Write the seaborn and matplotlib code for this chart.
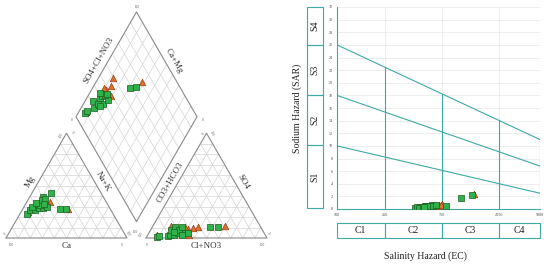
import matplotlib.pyplot as plt
import numpy as np
import pandas as pd
import seaborn as sns

# samples, two sets (green squares / orange triangles)
# cations in % meq: Ca, Mg (Na+K is the rest); anions: Cl+NO3, SO4 (CO3+HCO3 is the rest)
set1_ca = [71.6, 66.8, 62.7, 64.1, 58.3, 55.5, 51.7, 56.2, 50.3, 52.3, 49.3, 41.5, 41.7, 36.6, 58.5, 52.2]
set1_mg = [22.6, 26.7, 26.7, 29.3, 28.3, 28.3, 29.3, 31.5, 38.8, 36.3, 36.9, 43.2, 27.4, 27.7, 33.4, 32.9]
set1_cl = [8.5, 9.8, 17.4, 18.4, 22.0, 24.0, 29.7, 16.9, 18.9, 23.7, 24.1, 32.2, 47.2, 54.0, 28.0, 20.0]
set1_so4 = [0.7, 1.9, 1.9, 2.9, 2.9, 4.5, 5.0, 7.6, 10.2, 7.6, 10.8, 4.5, 10.8, 10.2, 2.9, 5.5]
set1_ec = [450, 470, 500, 490, 540, 560, 620, 520, 600, 580, 640, 680, 1100, 1350, 530, 820]
set1_sar = [0.2, 0.25, 0.35, 0.2, 0.4, 0.45, 0.6, 0.3, 0.5, 0.45, 0.55, 0.65, 1.7, 2.2, 0.25, 0.45]

set2_ca = [46.3, 69.0, 35.2, 49.0, 58.0, 56.0, 63.0, 50.0]
set2_mg = [34.6, 25.1, 27.2, 39.0, 30.0, 33.0, 28.0, 36.0]
set2_cl = [30.8, 8.0, 59.3, 26.8, 37.8, 15.0, 34.0, 34.5]
set2_so4 = [8.3, 2.5, 11.5, 10.8, 10.8, 11.4, 2.9, 9.3]
set2_ec = [720, 470, 1400, 660, 760, 620, 700, 740]
set2_sar = [0.7, 0.3, 2.45, 0.6, 0.75, 0.5, 0.55, 0.65]

# Wilcox diagram
ec_ticks = [100, 250, 750, 2250, 5000]
sar_ticks = list(range(0, 33, 2))
s_bounds = [0, 10, 18, 26, 32]
s_names = ["S1", "S2", "S3", "S4"]
c_names = ["C1", "C2", "C3", "C4"]
# boundary lines: SAR at EC=100 and EC=5000
line_start = [10, 18, 26]
line_end = [2.5, 6.8, 11]

teal = "#3fa9a5"
green, green_edge = "#2fb24a", "#1b5e20"
orange, orange_edge = "#e0702e", "#9c3d12"

sns.set_theme(style="white")
plt.rcParams["font.family"] = ["Liberation Serif", "DejaVu Serif"]

fig = plt.figure(figsize=(5.5, 2.65), dpi=100)

# ---------------- Piper diagram ----------------
L = 100
gap = 15.7
h = np.sqrt(3) / 2
bx, by = L + gap / 2, gap * h

ax = fig.add_axes([0, 0, 280 / 550, 1])

grid_kw = dict(color="#d4d4d4", lw=0.5, zorder=1)
edge_kw = dict(color="#8a8a8a", lw=0.8, zorder=2)
for ox in [0, L + gap]:
    for i in range(1, 10):
        t = i / 10
        ax.plot([ox + t * L / 2, ox + L - t * L / 2], [t * L * h, t * L * h], **grid_kw)
        ax.plot([ox + t * L, ox + t * L + (1 - t) * L / 2], [0, (1 - t) * L * h], **grid_kw)
        ax.plot([ox + t * L, ox + t * L / 2], [0, t * L * h], **grid_kw)
    ax.plot([ox, ox + L, ox + L / 2, ox], [0, 0, L * h, 0], **edge_kw)

for i in range(1, 10):
    t = i / 10
    x0, y0 = bx - t * L / 2, by + t * L * h
    ax.plot([x0, x0 + L / 2], [y0, y0 + L * h], **grid_kw)
    x0, y0 = bx + t * L / 2, by + t * L * h
    ax.plot([x0, x0 - L / 2], [y0, y0 + L * h], **grid_kw)
ax.plot([bx, bx - L / 2, bx, bx + L / 2, bx], [by, by + L * h, by + 2 * L * h, by + L * h, by], **edge_kw)

lab_kw = dict(fontsize=6.5, color="#333333", ha="center", va="center")
ax.text(L / 2, -7, "Ca", **lab_kw)
ax.text(L + gap + L / 2, -7, "Cl+NO3", **lab_kw)
ax.text(19.8, 46.3, "Mg", rotation=60, **lab_kw)
ax.text(80.2, 46.3, "Na+K", rotation=-60, **lab_kw)
ax.text(135.5, 46.3, "CO3+HCO3", rotation=60, **lab_kw)
ax.text(195.9, 46.3, "SO4", rotation=-60, **lab_kw)
ax.text(77.0, 146.5, "SO4+Cl+NO3", rotation=60, **lab_kw)
ax.text(138.5, 146.5, "Ca+Mg", rotation=-60, **lab_kw)

tk = dict(fontsize=2.5, color="#555555", ha="center", va="center")
ax.text(4.5, -5.5, "100", **tk)
ax.text(95.6, -5.5, "0", **tk)
ax.text(-0.8, 3.9, "0", rotation=60, **tk)
ax.text(45.5, 85, "100", rotation=60, **tk)
ax.text(54.5, 87, "0", rotation=-60, **tk)
ax.text(100.8, 3.9, "100", rotation=-60, **tk)
ax.text(116.3, -5.5, "0", **tk)
ax.text(212, -5.5, "100", **tk)
ax.text(112, 3, "100", rotation=60, **tk)
ax.text(163, 86, "0", rotation=60, **tk)
ax.text(170, 86, "100", rotation=-60, **tk)
ax.text(216.8, 3.9, "0", rotation=-60, **tk)
ax.text(108.3, 190.5, "100", **tk)
ax.text(54.3, 97.5, "0", **tk)
ax.text(162.8, 97.5, "0", **tk)
ax.text(106.6, 5.2, "100", **tk)


def piper_points(ca, mg, cl, so4):
    ca, mg, cl, so4 = map(np.asarray, (ca, mg, cl, so4))
    nak = 100 - ca - mg
    u = (ca + mg) / 100
    v = (cl + so4) / 100
    xs = np.concatenate([nak + mg / 2, L + gap + cl + so4 / 2, bx + L * (v - u) / 2])
    ys = np.concatenate([mg * h, so4 * h, by + L * h * (u + v)])
    return pd.DataFrame({"x": xs, "y": ys})


p2 = piper_points(set2_ca, set2_mg, set2_cl, set2_so4)
p1 = piper_points(set1_ca, set1_mg, set1_cl, set1_so4)
sns.scatterplot(data=p2, x="x", y="y", ax=ax, marker="^", s=22, color=orange,
                edgecolor=orange_edge, linewidth=0.5, zorder=3, legend=False)
sns.scatterplot(data=p1, x="x", y="y", ax=ax, marker="s", s=16, color=green,
                edgecolor=green_edge, linewidth=0.5, zorder=4, legend=False)
ax.set_xlim(-6 / 1.21, 274 / 1.21)
ax.set_ylim((238 - 265) / 1.21, 238 / 1.21)
ax.axis("off")

# ---------------- Wilcox diagram ----------------
ax2 = fig.add_axes([337 / 550, 56 / 265, 203 / 550, 202 / 265])
w2 = pd.DataFrame({"EC": set2_ec, "SAR": set2_sar})
w1 = pd.DataFrame({"EC": set1_ec, "SAR": set1_sar})
sns.scatterplot(data=w2, x="EC", y="SAR", ax=ax2, marker="^", s=22, color=orange,
                edgecolor=orange_edge, linewidth=0.5, zorder=4, legend=False)
sns.scatterplot(data=w1, x="EC", y="SAR", ax=ax2, marker="s", s=16, color=green,
                edgecolor=green_edge, linewidth=0.5, zorder=5, legend=False)
ax2.set_xscale("log")
ax2.set_xlim(100, 5000)
ax2.set_ylim(0, 32)
ax2.set_xticks(ec_ticks)
ax2.set_xticklabels([str(t) for t in ec_ticks])
ax2.minorticks_off()
ax2.set_yticks(sar_ticks)
ax2.grid(True, color="#e8e8e8", lw=0.5)
ax2.set_axisbelow(True)
ax2.tick_params(length=0, labelsize=3, pad=3, colors="#444444")
ax2.set_xlabel("")
ax2.set_ylabel("")
for s in ["top", "right"]:
    ax2.spines[s].set_visible(False)
for s in ["left", "bottom"]:
    ax2.spines[s].set_color(teal)
    ax2.spines[s].set_linewidth(0.8)

logx = np.log10([100, 5000])
for a, b in zip(line_start, line_end):
    ax2.plot([100, 5000], [a, b], color=teal, lw=0.8, zorder=3)
for e in ec_ticks[1:]:
    top = np.interp(np.log10(e), logx, [line_start[-1], line_end[-1]])
    ax2.plot([e, e], [0, top], color=teal, lw=0.8, zorder=3)

# S boxes
ax3 = fig.add_axes([307 / 550, 57 / 265, 16 / 550, 201 / 265])
ax3.set_xlim(0, 1)
ax3.set_ylim(0, 32)
ax3.axis("off")
for i, name in enumerate(s_names):
    lo, hi = s_bounds[i], s_bounds[i + 1]
    ax3.add_patch(plt.Rectangle((0, lo), 1, hi - lo, fill=False, edgecolor=teal, lw=0.8, clip_on=False))
    ax3.text(0.5, (lo + hi) / 2, name, rotation=90, ha="center", va="center", fontsize=7, color="#222222")

# C boxes
ax4 = fig.add_axes([337 / 550, 27 / 265, 203 / 550, 15 / 265])
ax4.set_xscale("log")
ax4.set_xlim(100, 5000)
ax4.set_ylim(0, 1)
ax4.axis("off")
for i, name in enumerate(c_names):
    lo, hi = ec_ticks[i], ec_ticks[i + 1]
    ax4.add_patch(plt.Rectangle((lo, 0), hi - lo, 1, fill=False, edgecolor=teal, lw=0.8, clip_on=False))
    ax4.text(np.sqrt(lo * hi), 0.5, name, ha="center", va="center", fontsize=7, color="#222222")

fig.text(425 / 550, 1 - 256 / 265, "Salinity Hazard (EC)", ha="center", va="center", fontsize=7, color="#222222")
fig.text(297 / 550, 1 - 108 / 265, "Sodium Hazard (SAR)", ha="center", va="center", rotation=90,
         fontsize=7, color="#222222")

fig.savefig("out.png", dpi=100)
